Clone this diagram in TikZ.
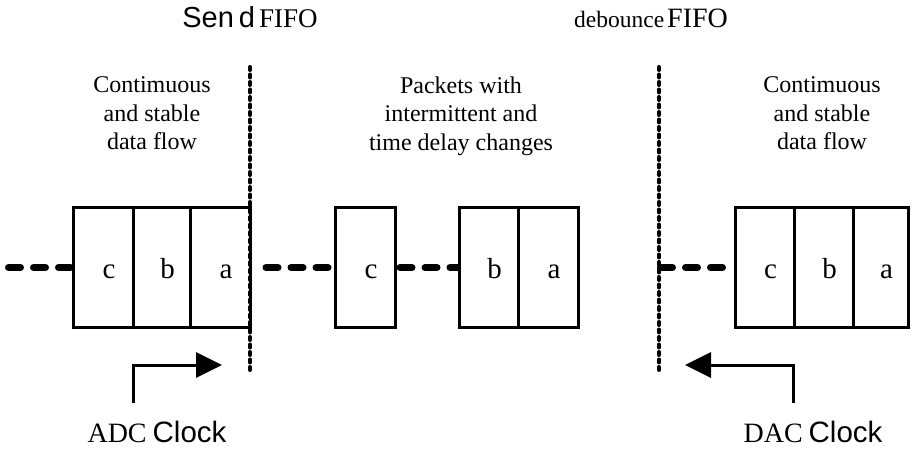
\documentclass[tikz,border=0pt]{standalone}
\usepackage{fontspec}
\setmainfont{Liberation Serif}
\setsansfont{Liberation Sans}
\usetikzlibrary{arrows.meta,calc}

\tikzset{
  cell/.style={draw, line width=3pt, minimum height=119pt, inner sep=0pt},
  letter/.style={anchor=base, inner sep=0pt, font=\fontsize{29}{29}\selectfont},
  flow/.style={line width=7pt, line cap=round, dash pattern=on 12pt off 13pt},
  border/.style={line width=4pt, line cap=round, dash pattern=on 3pt off 4.5pt},
  clk/.style={line width=3pt, -{Triangle[length=26pt,width=25pt]}},
  note/.style={anchor=north, inner sep=0pt, align=center, font=\fontsize{24}{28.5}\selectfont},
  title/.style={anchor=base, inner sep=0pt},
}

\begin{document}
\begin{tikzpicture}[x=1pt,y=-1pt]
  \useasboundingbox (0,0) rectangle (913,449);

  % titles
  \node[title] (send) at (250,28)
    {{\sffamily\fontsize{29}{29}\selectfont Sen\kern5pt d}\kern4pt{\fontsize{27}{27}\selectfont FIFO}};
  \node[title] (deb) at (651,28)
    {{\fontsize{23.5}{24}\selectfont debounce}\kern3pt{\fontsize{28}{28}\selectfont FIFO}};

  % region notes
  \node[note] (n1) at (152,76.6) {Contimuous\\and stable\\data flow};
  \node[note] (n2) at (461,76.6) {Packets with\\intermittent and\\time delay changes};
  \node[note] (n3) at (822,76.6) {Contimuous\\and stable\\data flow};

  % sending FIFO
  \node[cell, minimum width=60pt] (c1) at (103,267.5) {};
  \node[cell, minimum width=57pt] (b1) at (161.5,267.5) {};
  \node[cell, minimum width=60pt] (a1) at (220,267.5) {};
  % packets in transit
  \node[cell, minimum width=60pt] (c2) at (365,267.5) {};
  \node[cell, minimum width=59pt] (b2) at (488.5,267.5) {};
  \node[cell, minimum width=60pt] (a2) at (548,267.5) {};
  % debounce FIFO
  \node[cell, minimum width=59pt] (c3) at (764.5,267.5) {};
  \node[cell, minimum width=59pt] (b3) at (823.5,267.5) {};
  \node[cell, minimum width=55pt] (a3) at (880.5,267.5) {};

  \foreach \n/\t in {c1/c,b1/b,a1/a,c2/c,b2/b,a2/a,c3/c,b3/b,a3/a}
    \node[letter] at ($(\n.center)+(6,10.5)$) {\t};

  % clock-domain borders
  \coordinate (d1t) at (250,67);
  \coordinate (d1b) at (250,372);
  \coordinate (d2t) at (659,67);
  \coordinate (d2b) at (659,372);
  \draw[border] (d1t) -- (d1b);
  \draw[border] (d2t) -- (d2b);

  % data flow
  \coordinate (in) at (8.5,267.5);
  \coordinate (out) at (660.5,267.5);
  \draw[flow] (in) -- (c1.west);
  \draw[flow] ([xshift=14.5pt]a1.east) -- (c2.west);
  \draw[flow] ([xshift=3.5pt]c2.east) -- (b2.west);
  \draw[flow] (out) -- (c3.west);

  % clocks
  \node[title] (adc) at (157,442)
    {{\fontsize{28}{28}\selectfont ADC}\kern6pt{\sffamily\fontsize{29.5}{29.5}\selectfont Clock}};
  \node[title] (dac) at (813,442)
    {{\fontsize{28}{28}\selectfont DAC}\kern6pt{\sffamily\fontsize{29.5}{29.5}\selectfont Clock}};
  \coordinate (adc0) at (133,403);
  \coordinate (adc1) at (222,365);
  \coordinate (dac0) at (793,403);
  \coordinate (dac1) at (685,365);
  \draw[clk] (adc0) |- (adc1);
  \draw[clk] (dac0) |- (dac1);
\end{tikzpicture}
\end{document}
